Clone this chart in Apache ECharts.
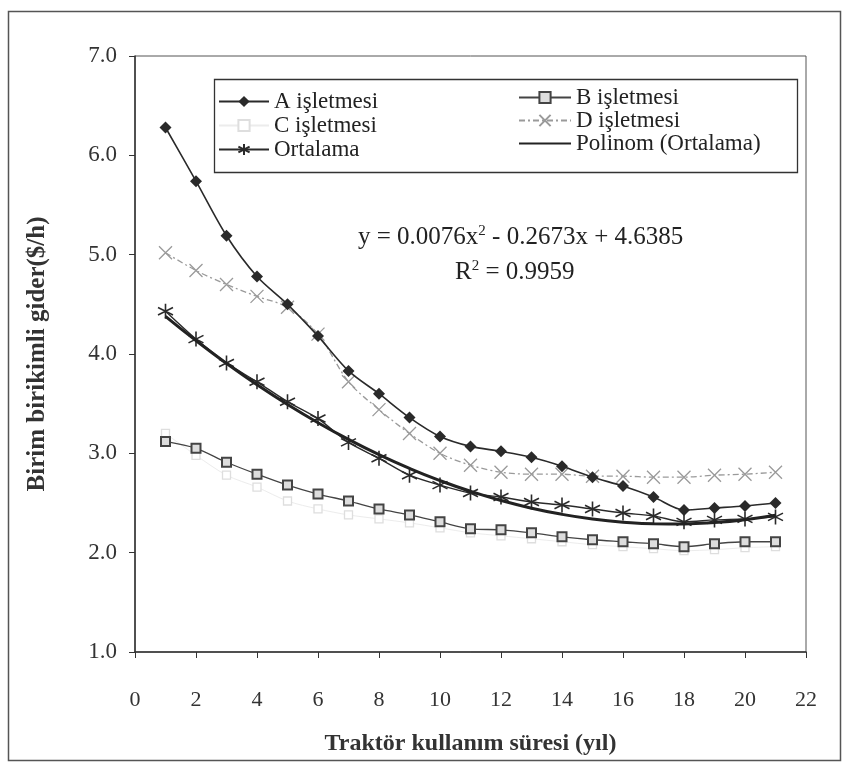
<!DOCTYPE html>
<html>
<head>
<meta charset="utf-8">
<script src="https://cdn.jsdelivr.net/npm/echarts@6/dist/echarts.min.js"></script>
<style>
  html, body { margin: 0; padding: 0; background: #fff; }
  #chart { width: 854px; height: 765px; }
</style>
</head>
<body>
<div id="chart"></div>
<script>
// Tractor age (years)
const years = [1, 2, 3, 4, 5, 6, 7, 8, 9, 10, 11, 12, 13, 14, 15, 16, 17, 18, 19, 20, 21];

// Cumulative unit cost ($/h) per farm
const farmA = [6.28, 5.74, 5.19, 4.78, 4.50, 4.18, 3.83, 3.60, 3.36, 3.17, 3.07, 3.02, 2.96, 2.87, 2.76, 2.67, 2.56, 2.43, 2.45, 2.47, 2.50];
const farmB = [3.12, 3.05, 2.91, 2.79, 2.68, 2.59, 2.52, 2.44, 2.38, 2.31, 2.24, 2.23, 2.20, 2.16, 2.13, 2.11, 2.09, 2.06, 2.09, 2.11, 2.11];
const farmC = [3.20, 2.98, 2.78, 2.66, 2.52, 2.44, 2.38, 2.34, 2.30, 2.25, 2.20, 2.17, 2.14, 2.11, 2.08, 2.06, 2.04, 2.02, 2.03, 2.05, 2.06];
const farmD = [5.02, 4.84, 4.70, 4.58, 4.47, 4.20, 3.72, 3.44, 3.20, 3.00, 2.88, 2.81, 2.79, 2.79, 2.77, 2.77, 2.76, 2.76, 2.78, 2.79, 2.81];
const average = [4.43, 4.15, 3.91, 3.72, 3.52, 3.35, 3.11, 2.95, 2.78, 2.68, 2.60, 2.56, 2.51, 2.48, 2.44, 2.40, 2.37, 2.31, 2.33, 2.34, 2.36];

// Second-order polynomial trend of the average: [c2, c1, c0]
const trendCoef = [0.0076, -0.2673, 4.6385];
const rSquared = '0.9959';

const seriesNames = ['A işletmesi', 'B işletmesi', 'C işletmesi', 'D işletmesi', 'Ortalama', 'Polinom (Ortalama)'];
const xTicks = { min: 0, max: 22, step: 2 };
const yTicks = { min: 1, max: 7, step: 1 };

const pair = (vals) => years.map((x, i) => [x, vals[i]]);
const trendData = years.map(x => [x, trendCoef[0] * x * x + trendCoef[1] * x + trendCoef[2]]);

const SERIF = '"Liberation Serif", "Times New Roman", serif';
const starPath = 'path://M0,-10L0,10M-8.66,-5L8.66,5M-8.66,5L8.66,-5';
const crossPath = 'path://M-7,-7L7,7M-7,7L7,-7';

const chart = echarts.init(document.getElementById('chart'), null, { renderer: 'canvas' });

const legendText = { fontFamily: SERIF, fontSize: 23, lineHeight: 21, color: '#222' };

chart.setOption({
  animation: false,
  backgroundColor: '#fff',
  grid: {
    left: 135, right: 48, top: 56, bottom: 113,
    show: true, borderColor: '#555', borderWidth: 1, backgroundColor: 'transparent'
  },
  legend: [
    {
      data: [seriesNames[0], seriesNames[2], seriesNames[4]],
      orient: 'vertical', left: 218, top: 90, itemGap: 1,
      itemWidth: 50, itemHeight: 14, textStyle: legendText, padding: 0
    },
    {
      data: [
        seriesNames[1],
        seriesNames[3],
        { name: seriesNames[5], itemStyle: { opacity: 0 } }
      ],
      orient: 'vertical', left: 518, top: 86, itemGap: 0,
      itemWidth: 52, itemHeight: 14, textStyle: legendText, padding: 0
    }
  ],
  xAxis: {
    type: 'value', min: xTicks.min, max: xTicks.max, interval: xTicks.step,
    name: 'Traktör kullanım süresi (yıl)', nameLocation: 'middle', nameGap: 80,
    nameTextStyle: { fontFamily: SERIF, fontSize: 24, fontWeight: 'bold', color: '#333' },
    axisLine: { lineStyle: { color: '#333', width: 1.5 } },
    axisTick: { show: true, length: 6, lineStyle: { color: '#333' } },
    axisLabel: { fontFamily: SERIF, fontSize: 22, color: '#333', margin: 37 },
    splitLine: { show: false }
  },
  yAxis: {
    type: 'value', min: yTicks.min, max: yTicks.max, interval: yTicks.step,
    name: 'Birim birikimli gider($/h)', nameLocation: 'middle', nameGap: 85,
    nameTextStyle: { fontFamily: SERIF, fontSize: 25, fontWeight: 'bold', color: '#333' },
    axisLine: { show: true, lineStyle: { color: '#333', width: 1.5 } },
    axisTick: { show: true, length: 6, lineStyle: { color: '#333' } },
    axisLabel: { fontFamily: SERIF, fontSize: 23, color: '#333', margin: 18, formatter: v => v.toFixed(1) },
    splitLine: { show: false }
  },
  series: [
    {
      name: seriesNames[0], type: 'line', data: pair(farmA), smooth: 0.3,
      symbol: 'diamond', symbolSize: 12,
      lineStyle: { color: '#2a2a2a', width: 1.6 },
      itemStyle: { color: '#2a2a2a' }, z: 5
    },
    {
      name: seriesNames[1], type: 'line', data: pair(farmB), smooth: 0.3,
      symbol: 'rect', symbolSize: 9,
      lineStyle: { color: '#444', width: 1.3 },
      itemStyle: { color: '#ddd', borderColor: '#444', borderWidth: 2 }, z: 4
    },
    {
      name: seriesNames[2], type: 'line', data: pair(farmC), smooth: 0.3,
      symbol: 'rect', symbolSize: 8,
      lineStyle: { color: '#ececec', width: 1 },
      itemStyle: { color: '#fff', borderColor: '#dedede', borderWidth: 1.3 }, z: 3
    },
    {
      name: seriesNames[3], type: 'line', data: pair(farmD), smooth: 0.3,
      symbol: crossPath, symbolSize: 13,
      lineStyle: { color: '#9a9a9a', width: 1.3, type: [6, 3, 2, 3] },
      itemStyle: { color: '#9a9a9a', borderColor: '#9a9a9a', borderWidth: 1.3 }, z: 4
    },
    {
      name: seriesNames[4], type: 'line', data: pair(average), smooth: 0.3,
      symbol: starPath, symbolSize: 15,
      lineStyle: { color: '#2a2a2a', width: 1.4 },
      itemStyle: { color: '#2a2a2a', borderColor: '#2a2a2a', borderWidth: 1.6 }, z: 5
    },
    {
      name: seriesNames[5], type: 'line', data: trendData, smooth: true,
      symbol: 'none', showSymbol: false,
      lineStyle: { color: '#222', width: 3 },
      itemStyle: { color: '#222' }, z: 6
    }
  ],
  graphic: [
    // outer frame of the figure
    {
      type: 'rect', left: 6, top: 9, silent: true,
      shape: { width: 832, height: 749 },
      style: { fill: 'none', stroke: '#555', lineWidth: 1.5 }
    },
    // frame around the legend
    {
      type: 'rect', left: 212, top: 77, silent: true,
      shape: { width: 583, height: 93 },
      style: { fill: 'none', stroke: '#333', lineWidth: 1.3 }, z: 10
    },
    {
      type: 'text', left: 358, top: 224, silent: true, z: 10,
      style: {
        text: '{t|y = ' + trendCoef[0] + 'x}{s|2}{t| - ' + Math.abs(trendCoef[1]) + 'x + ' + trendCoef[2] + '}',
        rich: {
          t: { fontFamily: SERIF, fontSize: 25, fill: '#222' },
          s: { fontFamily: SERIF, fontSize: 15, fill: '#222', verticalAlign: 'top', padding: [0, 0, 11, 0] }
        }
      }
    },
    {
      type: 'text', left: 455, top: 259, silent: true, z: 10,
      style: {
        text: '{t|R}{s|2}{t| = ' + rSquared + '}',
        rich: {
          t: { fontFamily: SERIF, fontSize: 25, fill: '#222' },
          s: { fontFamily: SERIF, fontSize: 15, fill: '#222', verticalAlign: 'top', padding: [0, 0, 11, 0] }
        }
      }
    }
  ]
});
</script>
</body>
</html>
